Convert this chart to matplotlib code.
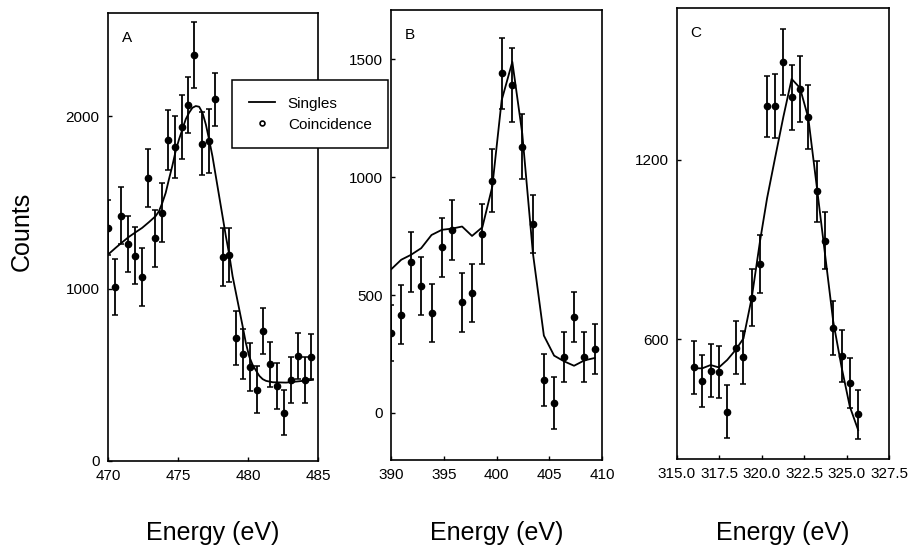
import matplotlib
matplotlib.use('Agg')
import matplotlib.pyplot as plt
from matplotlib.lines import Line2D

plt.rcParams['font.family'] = ['Liberation Sans', 'DejaVu Sans']

# panel A: coincidence points with error bars, singles curve
a_energy = [470.0, 470.48, 470.96, 471.43, 471.9, 472.4, 472.87, 473.35, 473.83, 474.3,
            474.78, 475.26, 475.74, 476.17, 476.7, 477.2, 477.63, 478.18, 478.66, 479.14,
            479.64, 480.14, 480.64, 481.1, 481.6, 482.1, 482.6, 483.06, 483.54, 484.04, 484.52]
a_counts = [1353, 1010, 1424, 1260, 1192, 1068, 1641, 1292, 1440, 1864,
            1822, 1938, 2064, 2355, 1841, 1859, 2099, 1184, 1196, 715,
            622, 545, 413, 756, 562, 436, 281, 471, 610, 471, 606]
a_err = [160, 162, 164, 164, 165, 168, 167, 165, 171, 174,
         181, 184, 162, 192, 184, 186, 153, 167, 159, 155,
         145, 140, 136, 133, 131, 132, 133, 133, 133, 133, 133]
a_singles_e = [470.0, 470.53, 471.01, 471.48, 471.96, 472.44, 472.92, 473.4, 473.64, 473.88,
               474.12, 474.35, 474.59, 474.83, 475.07, 475.31, 475.55, 475.79, 476.03, 476.27,
               476.51, 476.75, 476.99, 477.22, 477.46, 477.7, 477.94, 478.18, 478.42, 478.66,
               478.9, 479.14, 479.38, 479.62, 479.85, 480.09, 480.33, 480.57, 480.81, 481.05,
               481.29, 481.77, 482.72, 483.68, 484.64]
a_singles = [1198, 1236, 1269, 1300, 1327, 1353, 1386, 1421, 1450, 1498,
             1556, 1634, 1711, 1798, 1866, 1924, 1983, 2021, 2050, 2060,
             2056, 2021, 1953, 1866, 1769, 1653, 1537, 1421, 1304, 1198,
             1072, 975, 878, 781, 684, 606, 558, 525, 494, 475,
             465, 457, 455, 463, 471]

# panel B
b_energy = [390.03, 390.97, 391.9, 392.86, 393.84, 394.82, 395.77, 396.74, 397.68, 398.66,
            399.6, 400.49, 401.5, 402.44, 403.45, 404.49, 405.46, 406.4, 407.35, 408.34, 409.31]
b_counts = [339, 417, 642, 539, 424, 703, 777, 469, 508, 760,
            986, 1441, 1391, 1130, 802, 141, 42, 236, 407, 236, 271]
b_err = [120, 125, 127, 123, 125, 125, 126, 126, 124, 126,
         132, 150, 157, 139, 124, 111, 109, 107, 106, 106, 106]
b_singles = [610, 650, 671, 699, 755, 777, 782, 791, 751, 788,
             960, 1327, 1490, 1186, 678, 328, 243, 219, 200, 223, 233]

# panel C
c_energy = [316.02, 316.49, 316.98, 317.47, 317.96, 318.45, 318.92, 319.41, 319.9, 320.31,
            320.8, 321.27, 321.76, 322.25, 322.74, 323.24, 323.72, 324.21, 324.7, 325.19, 325.68]
c_counts = [506, 460, 495, 490, 358, 572, 540, 739, 851, 1378,
            1380, 1527, 1408, 1437, 1342, 1094, 930, 637, 544, 455, 349]
c_err = [88, 86, 88, 86, 89, 89, 89, 95, 96, 103,
         106, 110, 110, 111, 107, 102, 96, 91, 88, 83, 81]
c_singles = [503, 503, 514, 506, 531, 564, 603, 740, 930, 1071,
             1211, 1343, 1470, 1440, 1340, 1111, 888, 660, 508, 375, 297]

fig = plt.figure(figsize=(9.09, 5.46), dpi=100)
W, H = 909, 546

def add_axes(l, r, t, b):
    return fig.add_axes([l / W, 1 - b / H, (r - l) / W, (b - t) / H])

axA = add_axes(108, 318, 13, 461)
axB = add_axes(391, 602, 10, 460)
axC = add_axes(677, 889, 8, 459)

panels = [
    (axA, a_energy, a_counts, a_err, a_singles_e, a_singles, 'A'),
    (axB, b_energy, b_counts, b_err, b_energy, b_singles, 'B'),
    (axC, c_energy, c_counts, c_err, c_energy, c_singles, 'C'),
]

for ax, e, c, err, se, s, letter in panels:
    ax.plot(se, s, color='black', lw=1.3)
    ax.errorbar(e, c, yerr=err, fmt='o', color='black', ms=4.5,
                elinewidth=1.3, capsize=2, capthick=1.1)
    ax.text(0.09, 0.945, letter, transform=ax.transAxes, fontsize=11,
            ha='center', va='center')
    for sp in ax.spines.values():
        sp.set_linewidth(1.2)
    ax.tick_params(direction='in', length=3, width=1, labelsize=11, pad=6)
    ax.set_xlabel('Energy (eV)', fontsize=18, va='baseline')

axA.set_xlim(470, 485)
axA.set_ylim(0, 2600)
axA.set_xticks([470, 475, 480, 485])
axA.set_yticks([0, 1000, 2000])
axA.xaxis.set_label_coords(0.5, -0.176)

axB.set_xlim(390, 410)
axB.set_ylim(-200, 1710)
axB.set_xticks([390, 395, 400, 405, 410])
axB.set_yticks([0, 500, 1000, 1500])
axB.xaxis.set_label_coords(0.5, -0.178)

axC.set_xlim(315, 327.5)
axC.set_ylim(200, 1707)
axC.set_xticks([315.0, 317.5, 320.0, 322.5, 325.0, 327.5])
axC.set_xticklabels(['%.1f' % v for v in [315.0, 317.5, 320.0, 322.5, 325.0, 327.5]])
axC.set_yticks([600, 1200])
axC.xaxis.set_label_coords(0.5, -0.180)

axA.set_ylabel('Counts', fontsize=18, va='center')
axA.yaxis.set_label_coords(-0.41, 0.513)

handles = [Line2D([], [], color='black', lw=1.3),
           Line2D([], [], ls='none', marker='o', ms=3.5, mfc='white', mec='black', mew=1.2)]
fig.legend(handles, ['Singles', 'Coincidence'], loc='upper left',
           bbox_to_anchor=(232 / W, 1 - 80 / H), borderaxespad=0,
           fontsize=11, frameon=True, fancybox=False, edgecolor='black',
           framealpha=1, borderpad=1.1, labelspacing=0.45, handlelength=1.7,
           handletextpad=0.85)
fig.legends[0].get_frame().set_linewidth(1.1)

fig.savefig('out.png', dpi=100)
